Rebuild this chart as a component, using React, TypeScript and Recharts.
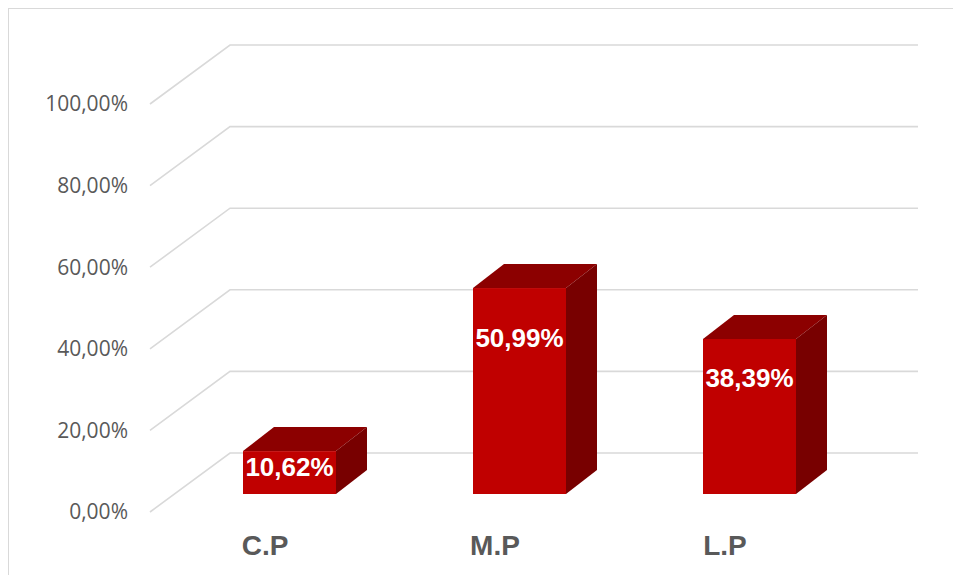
import { Bar, BarChart, CartesianGrid, XAxis, YAxis } from 'recharts';

const categories = ['C.P', 'M.P', 'L.P'];
const shares = [0.1062, 0.5099, 0.3839];
const yTicks = [0, 0.2, 0.4, 0.6, 0.8, 1];

const data = categories.map((name, i) => ({ name, share: shares[i] }));

const fmt = (v: number) => (v * 100).toFixed(2).replace('.', ',') + '%';

// floor / back wall depth
const WALL_DX = 80;
const WALL_DY = 59;
// where the bar front face sits, behind the axis plane
const BAR_DX = 24;
const BAR_DY = 18;
// depth of each box
const BOX_DX = 31;
const BOX_DY = 24;

const GridLine = (props: any) => {
    const { x1, y1, x2, index } = props;
    return (
        <polyline
            key={'g' + index}
            points={`${x1},${y1} ${x1 + WALL_DX},${y1 - WALL_DY} ${x2 + WALL_DX - 2},${y1 - WALL_DY}`}
            fill="none"
            stroke="#d9d9d9"
            strokeWidth={1.6}
        />
    );
};

const Box3D = (props: any) => {
    const { x, y, width, height, payload } = props;
    const h = height * 0.99;
    const left = x + BAR_DX;
    const right = left + width;
    const bottom = y + height - BAR_DY;
    const top = bottom - h;
    return (
        <g>
            <rect x={left} y={top} width={width} height={h} fill="#c00000" />
            <polygon
                points={`${left},${top} ${left + BOX_DX},${top - BOX_DY} ${right + BOX_DX},${top - BOX_DY} ${right},${top}`}
                fill="#8c0000"
            />
            <polygon
                points={`${right},${top} ${right + BOX_DX},${top - BOX_DY} ${right + BOX_DX},${bottom - BOX_DY} ${right},${bottom}`}
                fill="#780000"
            />
            <text
                x={(left + right) / 2}
                y={top + 0.21 * h + 7}
                textAnchor="middle"
                dominantBaseline="central"
                fill="#ffffff"
                fontWeight="bold"
                fontSize={26}
                fontFamily="'Liberation Sans', Arial, sans-serif"
            >
                {fmt(payload.share)}
            </text>
        </g>
    );
};

export default function App() {
    return (
        <div
            style={{
                position: 'absolute',
                left: 8,
                top: 8,
                width: 945,
                height: 567,
                boxSizing: 'border-box',
                borderTop: '1px solid #d9d9d9',
                borderLeft: '1px solid #d9d9d9',
                background: '#fff',
                overflow: 'hidden',
            }}
        >
            <BarChart width={944} height={566} data={data} margin={{ top: 95, right: 113, bottom: 23, left: 41 }}>
                <CartesianGrid vertical={false} horizontal={GridLine} />
                <XAxis
                    dataKey="name"
                    axisLine={false}
                    tickLine={false}
                    height={40}
                    tickSize={6}
                    tickMargin={17}
                    tick={{ fill: '#595959', fontSize: 28, fontWeight: 'bold', fontFamily: "'Liberation Sans', Arial, sans-serif" }}
                />
                <YAxis
                    domain={[0, 1]}
                    ticks={yTicks}
                    tickFormatter={fmt}
                    axisLine={false}
                    tickLine={false}
                    width={100}
                    tickSize={6}
                    tickMargin={16}
                    tick={{ fill: '#595959', fontSize: 21, fontFamily: "'Open Sans', sans-serif" }}
                />
                <Bar dataKey="share" barSize={93} shape={Box3D} isAnimationActive={false} />
            </BarChart>
        </div>
    );
}
